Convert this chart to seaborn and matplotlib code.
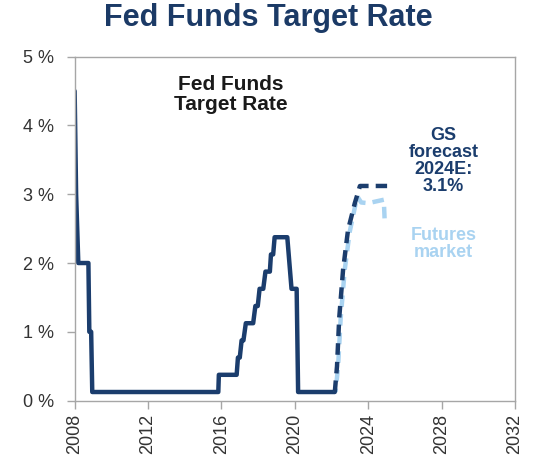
import pandas as pd
import matplotlib
matplotlib.use("Agg")
import matplotlib.pyplot as plt
import seaborn as sns

# fed funds history (mid of target range)
hist_year = [2008.00, 2008.08, 2008.20, 2008.75, 2008.80, 2008.90, 2008.96,
             2015.83, 2015.86, 2016.83, 2016.90, 2017.00, 2017.10, 2017.20,
             2017.33, 2017.73, 2017.85, 2017.98, 2018.08, 2018.28, 2018.40,
             2018.64, 2018.70, 2018.82, 2018.90, 2019.59, 2019.82, 2020.10,
             2020.18, 2022.18]
hist_rate = [4.5, 3.0, 2.0, 2.0, 1.0, 1.0, 0.125,
             0.125, 0.375, 0.375, 0.625, 0.625, 0.875, 0.875,
             1.125, 1.125, 1.375, 1.375, 1.625, 1.625, 1.875,
             1.875, 2.125, 2.125, 2.375, 2.375, 1.625, 1.625,
             0.125, 0.125]

# GS forecast path
gs_year = [2022.18, 2022.30, 2022.42, 2022.63, 2022.90, 2023.27, 2023.55, 2025.03]
gs_rate = [0.125, 0.5, 1.2, 1.9, 2.48, 2.87, 3.12, 3.12]

# futures market path
fut_year = [2022.22, 2022.36, 2022.50, 2022.72, 2022.99, 2023.40, 2023.62,
            2024.00, 2024.85, 2024.90]
fut_rate = [0.125, 0.5, 1.2, 1.9, 2.45, 2.97, 2.88, 2.87, 2.92, 2.6]

x_ticks = [2008, 2012, 2016, 2020, 2024, 2028, 2032]
y_ticks = [0, 1, 2, 3, 4, 5]

navy = "#1b3d6d"
light = "#a9d3f1"

df = pd.concat([
    pd.DataFrame({"year": hist_year, "rate": hist_rate, "series": "History"}),
    pd.DataFrame({"year": fut_year, "rate": fut_rate, "series": "Futures"}),
    pd.DataFrame({"year": gs_year, "rate": gs_rate, "series": "GS"}),
], ignore_index=True)

sns.set_theme(style="white")
plt.rcParams["font.family"] = ["Liberation Sans", "DejaVu Sans"]

fig = plt.figure(figsize=(5.37, 4.68), dpi=100)
ax = fig.add_axes([0.139, 0.144, 0.82, 0.735])

sns.lineplot(data=df, x="year", y="rate", hue="series", style="series",
             hue_order=["History", "Futures", "GS"],
             palette={"History": navy, "GS": navy, "Futures": light},
             dashes={"History": "", "GS": (2.6, 1.6), "Futures": (2.6, 1.6)},
             estimator=None, sort=False, linewidth=3.2, legend=False, ax=ax)

# shift the dash phase of the futures line so both paths show
for ln in ax.lines:
    if ln.get_color() == light:
        ln.set_linestyle((1.8, (2.6, 1.6)))

ax.set_xlim(2008, 2032)
ax.set_ylim(0, 5)
ax.set_xticks(x_ticks)
ax.set_xticklabels([str(t) for t in x_ticks], rotation=90)
ax.set_yticks(y_ticks)
ax.set_yticklabels([f"{t} %" for t in y_ticks])
ax.set_xlabel("")
ax.set_ylabel("")
ax.tick_params(axis="both", labelsize=13, labelcolor="#333333", color="#a6a6a6",
               length=6, width=1, direction="out", bottom=True, left=True)
ax.tick_params(axis="y", pad=9)
for s in ax.spines.values():
    s.set_color("#a6a6a6")
    s.set_linewidth(1)

fig.text(0.5, 0.962, "Fed Funds Target Rate", ha="center", va="center",
         fontsize=22, fontweight="bold", color="#1b3a66")

ax.text(2016.5, 4.45, "Fed Funds\nTarget Rate", ha="center", va="center",
        fontsize=15, fontweight="bold", color="#1a1a1a", linespacing=1.1)
ax.text(2028.1, 3.49, "GS\nforecast\n2024E:\n3.1%", ha="center", va="center",
        fontsize=13, fontweight="bold", color=navy, linespacing=1.0)
ax.text(2028.1, 2.27, "Futures\nmarket", ha="center", va="center",
        fontsize=13, fontweight="bold", color=light, linespacing=1.0)

fig.savefig("out.png", dpi=100)
